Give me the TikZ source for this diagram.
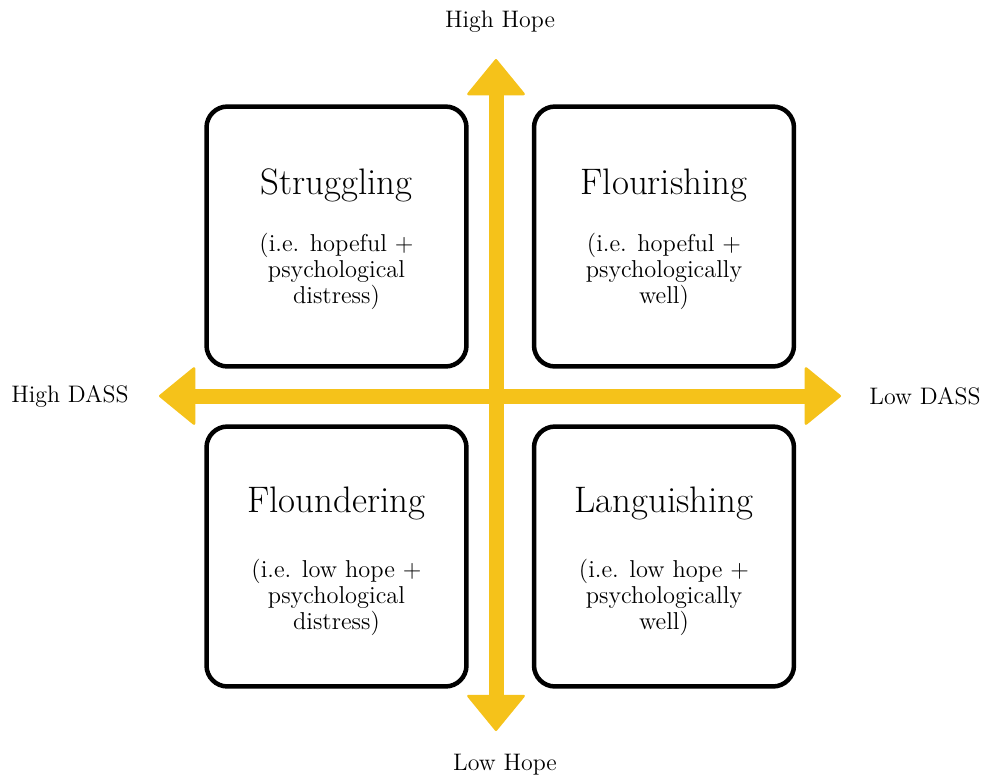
\documentclass[tikz,border=0pt]{standalone}
\usetikzlibrary{arrows.meta}

\definecolor{hopeyellow}{RGB}{245,194,26}

\tikzset{
	quad/.style={draw=black, line width=4.5*0.02cm, rounded corners=0.42cm,
		minimum width=5.2cm, minimum height=5.2cm},
	axis/.style={hopeyellow, line width=0.3cm,
		{Triangle[width=1.2cm, length=0.74cm, round, line width=0.05cm]}-{Triangle[width=1.2cm, length=0.74cm, round, line width=0.05cm]}},
	axislbl/.style={font=\fontsize{13.6}{16}\selectfont},
	title/.style={font=\fontsize{21}{24}\selectfont},
	desc/.style={font=\fontsize{13.9}{14.8}\selectfont, align=center}
}

\begin{document}
\begin{tikzpicture}[x=0.02cm, y=-0.02cm]
	\useasboundingbox (0,0) rectangle (985,779);

	% quadrants
	\node[quad] (struggle) at (336.5,236.5){};
	\node[quad] (flourish) at (664,236.5){};
	\node[quad] (flounder) at (336.5,556.5){};
	\node[quad] (languish) at (664,556.5){};

	\node[title] at (336.5,185){Struggling};
	\node[desc] at (336.5,271){(i.e. hopeful +\\psychological\\distress)};
	\node[title] at (664,185){Flourishing};
	\node[desc] at (664,271){(i.e. hopeful +\\psychologically\\well)};
	\node[title] at (336.5,503){Floundering};
	\node[desc] at (336.5,597){(i.e. low hope +\\psychological\\distress)};
	\node[title] at (664,503){Languishing};
	\node[desc] at (664,597){(i.e. low hope +\\psychologically\\well)};

	% axes
	\coordinate (hitop) at (496,59);
	\coordinate (lobot) at (496,731);
	\coordinate (hileft) at (159,396);
	\coordinate (loright) at (841,396);
	\draw[axis] (lobot) -- (hitop);
	\draw[axis] (hileft) -- (loright);

	\node[axislbl] (highhope) at (500,22){High Hope};
	\node[axislbl] (lowhope) at (505,765){Low Hope};
	\node[axislbl] (highdass) at (70,396){High DASS};
	\node[axislbl] (lowdass) at (925,396){Low DASS};
\end{tikzpicture}
\end{document}
